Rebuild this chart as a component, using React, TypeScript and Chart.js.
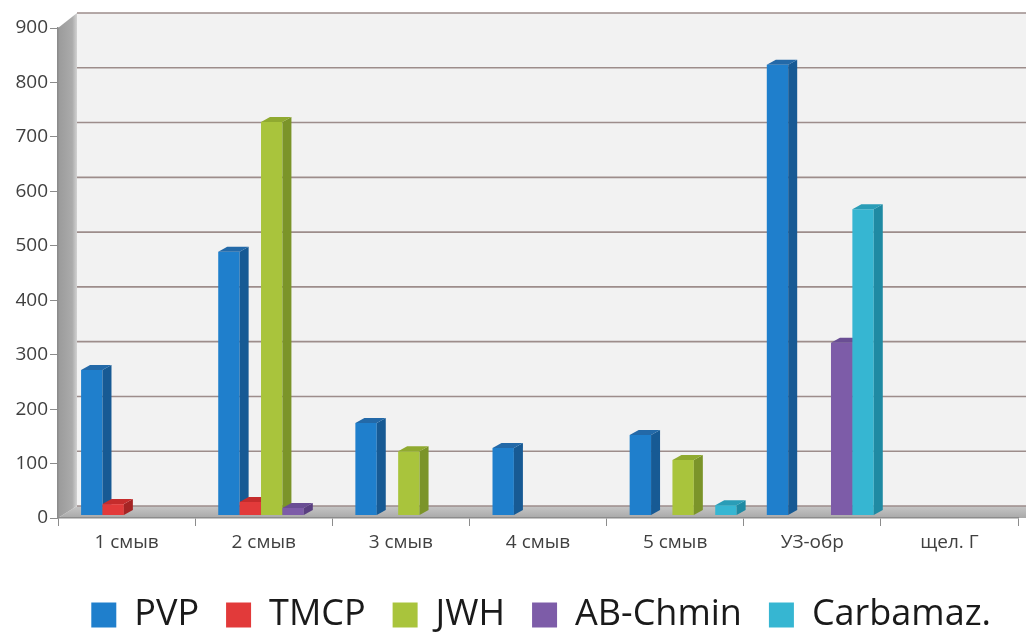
import React, { useEffect, useRef } from 'react';
import { Chart, registerables } from 'chart.js';

Chart.register(...registerables);

const categories = ['1 смыв', '2 смыв', '3 смыв', '4 смыв', '5 смыв', 'УЗ-обр', 'щел. Г'];
const seriesNames = ['PVP', 'TMCP', 'JWH', 'AB-Chmin', 'Carbamaz.'];
const pvp = [266, 483, 169, 123, 147, 826, 0];
const tmcp = [20, 24, 0, 0, 0, 0, 0];
const jwh = [0, 721, 117, 0, 101, 0, 0];
const abChmin = [0, 13, 0, 0, 0, 316, 0];
const carbamaz = [0, 0, 0, 0, 18, 561, 0];
const yTicks = [0, 100, 200, 300, 400, 500, 600, 700, 800, 900];

const frontColors = ['#1f7fcc', '#e23a3a', '#a9c43c', '#7d5ca8', '#36b6d2'];
const sideColors = ['#175a94', '#a52424', '#7b9429', '#5a3f81', '#1f8aa3'];
const topColors = ['#2369a8', '#c52c2c', '#90aa30', '#6a4e94', '#2a9db7'];

const DX = 9;
const DY = 5;
const SHIFT = 8;
const WALL_DX = 19;
const wallDy = (v: number) => 12 + (3 * v) / 900;

const threeD = {
  id: 'threeD',
  beforeDraw(chart: any) {
    const { ctx, chartArea: a, scales } = chart;
    const y = scales.y;
    const topV = yTicks[yTicks.length - 1];
    const topF = y.getPixelForValue(topV);
    const botF = y.getPixelForValue(0);
    const bl = a.left + WALL_DX;
    const br = chart.width + 40;
    const topB = topF - wallDy(topV);
    const botB = botF - wallDy(0);
    ctx.save();
    ctx.fillStyle = '#f2f2f2';
    ctx.fillRect(bl, topB, br - bl, botB - topB);
    const fg = ctx.createLinearGradient(0, botB, 0, botF);
    fg.addColorStop(0, '#c6c6c6');
    fg.addColorStop(1, '#a9a9a9');
    ctx.fillStyle = fg;
    ctx.beginPath();
    ctx.moveTo(a.left, botF);
    ctx.lineTo(br, botF);
    ctx.lineTo(br, botB);
    ctx.lineTo(bl, botB);
    ctx.closePath();
    ctx.fill();
    const lg = ctx.createLinearGradient(a.left, 0, bl, 0);
    lg.addColorStop(0, '#9a9a9a');
    lg.addColorStop(0.75, '#ababab');
    lg.addColorStop(1, '#d2d2d2');
    ctx.fillStyle = lg;
    ctx.beginPath();
    ctx.moveTo(a.left, topF);
    ctx.lineTo(bl, topB);
    ctx.lineTo(bl, botB);
    ctx.lineTo(a.left, botF);
    ctx.closePath();
    ctx.fill();
    ctx.strokeStyle = '#9d8d8b';
    ctx.lineWidth = 1.6;
    yTicks.forEach((v) => {
      const py = y.getPixelForValue(v) - wallDy(v);
      ctx.beginPath();
      ctx.moveTo(bl, py);
      ctx.lineTo(br, py);
      ctx.stroke();
    });
    ctx.restore();
  },
  // Skip the default (reverse-order) drawing; bars are drawn left to right below.
  beforeDatasetDraw() {
    return false;
  },
  afterDatasetsDraw(chart: any) {
    const ctx = chart.ctx;
    ctx.save();
    ctx.translate(SHIFT, 0);
    chart.data.datasets.forEach((ds: any, i: number) => {
      const meta = chart.getDatasetMeta(i);
      meta.data.forEach((el: any, j: number) => {
        const v = ds.data[j];
        if (!v) return;
        el.draw(ctx);
        const { x, y, base, width } = el.getProps(['x', 'y', 'base', 'width'], true);
        const l = x - width / 2;
        const r = x + width / 2;
        ctx.fillStyle = sideColors[i];
        ctx.beginPath();
        ctx.moveTo(r, y);
        ctx.lineTo(r + DX, y - DY);
        ctx.lineTo(r + DX, base - DY);
        ctx.lineTo(r, base);
        ctx.closePath();
        ctx.fill();
        ctx.fillStyle = topColors[i];
        ctx.beginPath();
        ctx.moveTo(l, y);
        ctx.lineTo(l + DX, y - DY);
        ctx.lineTo(r + DX, y - DY);
        ctx.lineTo(r, y);
        ctx.closePath();
        ctx.fill();
      });
    });
    ctx.restore();
  },
};

export default function App() {
  const ref = useRef<HTMLCanvasElement | null>(null);
  useEffect(() => {
    if (!ref.current) return;
    const seriesData = [pvp, tmcp, jwh, abChmin, carbamaz];
    const chart = new Chart(ref.current, {
      type: 'bar',
      data: {
        labels: categories,
        datasets: seriesData.map((d, i) => ({
          label: seriesNames[i],
          data: d,
          backgroundColor: frontColors[i],
          borderWidth: 0,
          yAxisID: 'yb',
          categoryPercentage: 0.78,
          barPercentage: 1,
        })),
      },
      options: {
        responsive: false,
        animation: false,
        layout: { padding: { top: 28, right: 8, left: 0, bottom: 0 } },
        plugins: {
          tooltip: { enabled: false },
          legend: {
            position: 'bottom',
            align: 'end',
            maxHeight: 62,
            labels: {
              boxWidth: 25,
              boxHeight: 25,
              padding: 27,
              color: '#1a1a1a',
              font: { family: '"Open Sans", "Noto Sans", sans-serif', size: 36 },
            },
          },
        },
        scales: {
          x: {
            grid: {
              display: true,
              drawOnChartArea: false,
              drawTicks: true,
              tickLength: 8,
              color: '#8c8c8c',
              offset: true,
            },
            border: { display: true, color: '#8c8c8c', width: 1.5 },
            ticks: {
              padding: 5,
              color: '#404040',
              font: { family: '"Open Sans", "Noto Sans", sans-serif', size: 19 },
            },
            afterFit: (s: any) => {
              s.height = 52;
            },
          },
          y: {
            min: 0,
            max: 900,
            afterBuildTicks: (s: any) => {
              s.ticks = yTicks.map((v) => ({ value: v }));
            },
            grid: {
              drawOnChartArea: false,
              drawTicks: true,
              tickLength: 8,
              color: '#8c8c8c',
            },
            border: { display: true, color: '#8c8c8c', width: 1.5 },
            ticks: {
              padding: 2,
              color: '#404040',
              font: { family: '"Open Sans", "Noto Sans", sans-serif', size: 19 },
            },
            afterFit: (s: any) => {
              s.width = 58;
            },
          },
          yb: {
            display: false,
            min: -5.5,
            max: 893.5,
          },
        },
      },
      plugins: [threeD],
    });
    return () => chart.destroy();
  }, []);
  return (
    <div style={{ position: 'fixed', left: 0, top: 0, width: 1026, height: 632, background: '#fff' }}>
      <canvas ref={ref} width={1026} height={632} />
    </div>
  );
}
